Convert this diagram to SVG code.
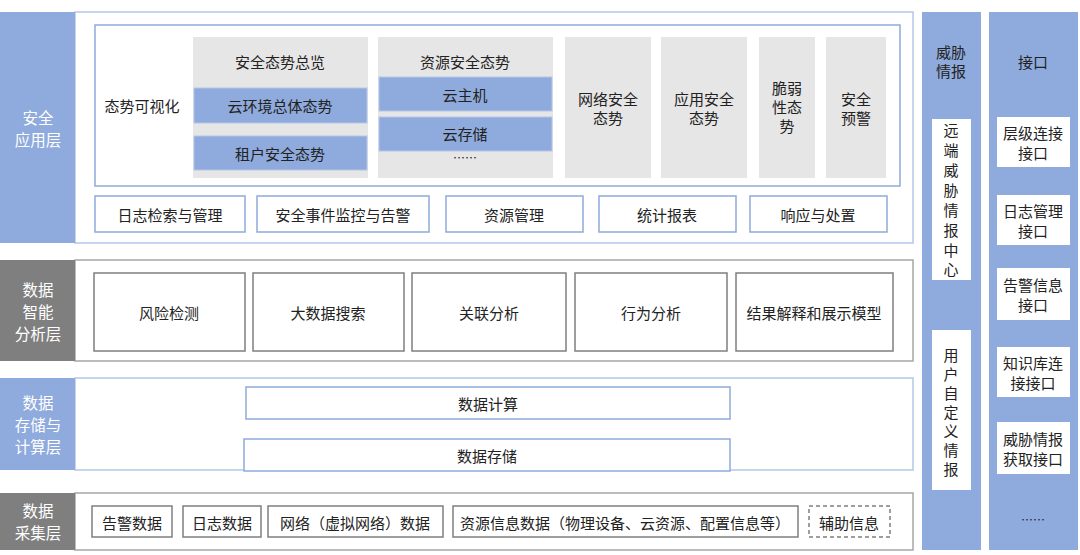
<svg xmlns="http://www.w3.org/2000/svg" width="1080" height="555" viewBox="0 0 1080 555">
<style>
text{font-family:"Noto Sans CJK SC","Liberation Sans",sans-serif;font-size:15px;fill:#222;text-anchor:middle;dominant-baseline:central}
.lb{fill:#fff;font-size:15.5px}
.blue{fill:#8faadc}
.grey{fill:#7f7f7f}
.fb{fill:#fff;stroke:#b4c7e7;stroke-width:1.5}
.fg{fill:#fff;stroke:#a6a6a6;stroke-width:1.5}
.bx{fill:#fff;stroke:#8faadc;stroke-width:1.5}
.gx{fill:#fff;stroke:#7f7f7f;stroke-width:1.5}
.lg{fill:#e7e6e6}
.bb{fill:#8faadc;stroke:#b4c7e7}
.wb{fill:#fff}
</style>
<rect width="1080" height="555" fill="#fff"/>
<g id="layer-app">
<rect class="fb" x="75" y="12" width="838" height="231"/>
<rect class="blue" x="0" y="12" width="75" height="231"/>
<text class="lb" x="38" y="117">安全</text><text class="lb" x="38" y="139">应用层</text>
<rect class="bx" x="95" y="25" width="805" height="161"/>
<text x="142" y="105">态势可视化</text>
<rect class="lg" x="193" y="37" width="175" height="141"/>
<text x="280" y="61">安全态势总览</text>
<rect class="bb" x="194" y="88" width="173" height="35"/><text x="280" y="105">云环境总体态势</text>
<rect class="bb" x="194" y="136" width="173" height="34"/><text x="280" y="153">租户安全态势</text>
<rect class="lg" x="378" y="37" width="175" height="141"/>
<text x="465" y="61">资源安全态势</text>
<rect class="bb" x="379" y="77" width="173" height="34"/><text x="465" y="94">云主机</text>
<rect class="bb" x="379" y="117" width="173" height="34"/><text x="465" y="133">云存储</text>
<text x="465" y="157" style="font-size:12px">……</text>
<rect class="lg" x="565" y="37" width="86" height="141"/><text x="608" y="98">网络安全</text><text x="608" y="117">态势</text>
<rect class="lg" x="661" y="37" width="86" height="141"/><text x="704" y="98">应用安全</text><text x="704" y="117">态势</text>
<rect class="lg" x="759" y="37" width="56" height="141"/><text x="787" y="87">脆弱</text><text x="787" y="106">性态</text><text x="787" y="125">势</text>
<rect class="lg" x="826" y="37" width="60" height="141"/><text x="856" y="98">安全</text><text x="856" y="117">预警</text>
<rect class="bx" x="95" y="196" width="150" height="36"/><text x="170" y="214">日志检索与管理</text>
<rect class="bx" x="257" y="196" width="172" height="36"/><text x="343" y="214">安全事件监控与告警</text>
<rect class="bx" x="446" y="196" width="137" height="36"/><text x="514" y="214">资源管理</text>
<rect class="bx" x="599" y="196" width="137" height="36"/><text x="667" y="214">统计报表</text>
<rect class="bx" x="750" y="196" width="137" height="36"/><text x="818" y="214">响应与处置</text>
</g>
<g id="layer-analysis">
<rect class="fg" x="75" y="260" width="838" height="101"/>
<rect class="grey" x="0" y="260" width="75" height="101"/>
<text class="lb" x="38" y="289">数据</text><text class="lb" x="38" y="311">智能</text><text class="lb" x="38" y="333">分析层</text>
<rect class="gx" x="94" y="273" width="151" height="78"/><text x="169" y="312">风险检测</text>
<rect class="gx" x="253" y="273" width="151" height="78"/><text x="328" y="312">大数据搜索</text>
<rect class="gx" x="412" y="273" width="154" height="78"/><text x="489" y="312">关联分析</text>
<rect class="gx" x="575" y="273" width="152" height="78"/><text x="651" y="312">行为分析</text>
<rect class="gx" x="736" y="273" width="157" height="78"/><text x="814" y="312">结果解释和展示模型</text>
</g>
<g id="layer-storage">
<rect class="fb" x="75" y="378" width="838" height="92"/>
<rect class="blue" x="0" y="378" width="75" height="92"/>
<text class="lb" x="38" y="402">数据</text><text class="lb" x="38" y="424">存储与</text><text class="lb" x="38" y="446">计算层</text>
<rect class="bx" x="246" y="387" width="484" height="32"/><text x="488" y="403">数据计算</text>
<rect class="bx" x="244" y="439" width="486" height="32"/><text x="487" y="455">数据存储</text>
</g>
<g id="layer-collect">
<rect class="fg" x="75" y="493" width="838" height="57"/>
<rect class="grey" x="0" y="493" width="75" height="57"/>
<text class="lb" x="38" y="510">数据</text><text class="lb" x="38" y="532">采集层</text>
<rect class="gx" x="92" y="506" width="80" height="31"/><text x="132" y="522">告警数据</text>
<rect class="gx" x="183" y="506" width="78" height="31"/><text x="222" y="522">日志数据</text>
<rect class="gx" x="268" y="506" width="175" height="31"/><text x="355" y="522">网络（虚拟网络）数据</text>
<rect class="gx" x="453" y="506" width="345" height="31"/><text x="625" y="522">资源信息数据（物理设备、云资源、配置信息等）</text>
<rect class="gx" x="809" y="506" width="81" height="31" stroke-dasharray="4,3"/><text x="849" y="522">辅助信息</text>
</g>
<g id="threat">
<rect class="blue" x="922" y="12" width="59" height="538"/>
<text x="951" y="51">威胁</text><text x="951" y="70">情报</text>
<rect class="wb" x="932" y="119" width="39" height="161"/>
<text x="951" y="129">远</text><text x="951" y="149">端</text><text x="951" y="169">威</text><text x="951" y="189">胁</text><text x="951" y="209">情</text><text x="951" y="229">报</text><text x="951" y="249">中</text><text x="951" y="268">心</text>
<rect class="wb" x="932" y="330" width="39" height="160"/>
<text x="951" y="354">用</text><text x="951" y="373">户</text><text x="951" y="392">自</text><text x="951" y="411">定</text><text x="951" y="430">义</text><text x="951" y="449">情</text><text x="951" y="468">报</text>
</g>
<g id="iface">
<rect class="blue" x="989" y="12" width="89" height="538"/>
<text x="1033" y="61">接口</text>
<rect class="wb" x="997" y="117" width="73" height="50"/><text x="1033" y="132">层级连接</text><text x="1033" y="152">接口</text>
<rect class="wb" x="997" y="195" width="73" height="50"/><text x="1033" y="210">日志管理</text><text x="1033" y="230">接口</text>
<rect class="wb" x="997" y="268" width="73" height="52"/><text x="1033" y="284">告警信息</text><text x="1033" y="304">接口</text>
<rect class="wb" x="997" y="347" width="73" height="50"/><text x="1033" y="362">知识库连</text><text x="1033" y="382">接接口</text>
<rect class="wb" x="997" y="422" width="73" height="52"/><text x="1033" y="438">威胁情报</text><text x="1033" y="458">获取接口</text>
<text x="1033" y="519" style="font-size:12px">……</text>
</g>
</svg>
